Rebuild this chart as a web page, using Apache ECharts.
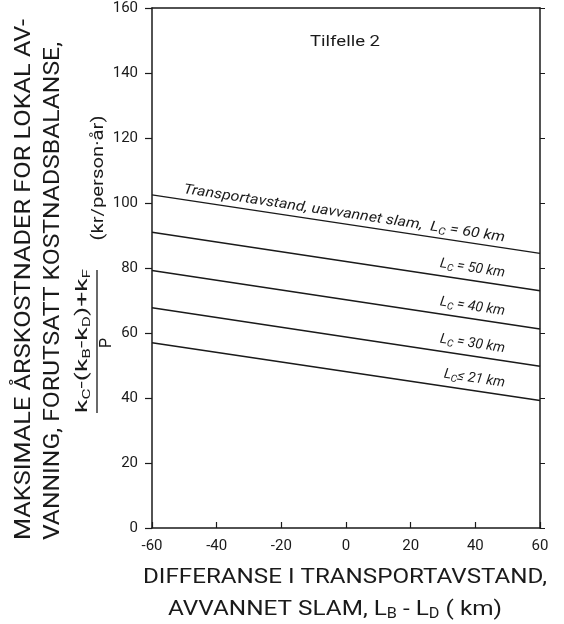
<!DOCTYPE html>
<html><head><meta charset="utf-8">
<script src="https://cdn.jsdelivr.net/npm/echarts@6/dist/echarts.min.js"></script>
<style>html,body{margin:0;padding:0;background:#fff}#c{width:564px;height:624px}</style>
</head><body><div id="c"></div>
<script>
// ---- data ----
const xTickValues = [-60, -40, -20, 0, 20, 40, 60];
const yTickValues = [0, 20, 40, 60, 80, 100, 120, 140, 160];
const xEnds = [-60, 60];
const lineLc60 = [102.5, 84.5];
const lineLc50 = [91.0, 73.0];
const lineLc40 = [79.2, 61.2];
const lineLc30 = [67.8, 49.8];
const lineLc21 = [57.0, 39.2];
const seriesNames = ['LC = 60 km', 'LC = 50 km', 'LC = 40 km', 'LC = 30 km', 'LC ≤ 21 km'];
const lineLabels = [
  'Transportavstand, uavvannet slam,  L{s|C} = 60 km',
  'L{s|C} = 50 km', 'L{s|C} = 40 km', 'L{s|C} = 30 km', 'L{s|C}≤ 21 km'
];
const caseTitle = 'Tilfelle 2';
const yTitle1 = 'MAKSIMALE ÅRSKOSTNADER FOR LOKAL AV-';
const yTitle2 = 'VANNING, FORUTSATT KOSTNADSBALANSE,';
const yNumerator = 'k{s|C}-(k{s|B}-k{s|D})+k{s|F}';
const yDenominator = 'P';
const yUnit = '(kr/person·år)';
const xTitle1 = 'DIFFERANSE I TRANSPORTAVSTAND,';
const xTitle2 = 'AVVANNET SLAM, L{s|B} - L{s|D} ( km)';

const FF = 'Roboto, "DejaVu Sans", sans-serif';
const INK = '#1a1a1a';
const lines = [lineLc60, lineLc50, lineLc40, lineLc30, lineLc21];

const ctx = document.createElement('canvas').getContext('2d');
function tw(text, size, style) { ctx.font = (style || 'normal') + ' ' + size + 'px ' + FF; return ctx.measureText(text).width; }
function richWidth(str, size, subSize, style) {
  let w = 0; const re = /\{s\|([^}]*)\}/g; let last = 0, m;
  while ((m = re.exec(str))) { w += tw(str.slice(last, m.index), size, style); w += tw(m[1], subSize, style); last = re.lastIndex; }
  w += tw(str.slice(last), size, style); return w;
}

const chart = echarts.init(document.getElementById('c'));
chart.setOption({
  animation: false,
  backgroundColor: '#fff',
  grid: { left: 152, right: 24, top: 8, bottom: 96 },
  xAxis: [
    { type: 'value', min: -60, max: 60, interval: 20, position: 'bottom',
      axisLine: { onZero: false, lineStyle: { color: INK, width: 1.5 } },
      axisTick: { inside: true, length: 6, lineStyle: { color: INK, width: 1.2 } },
      axisLabel: { color: INK, fontFamily: FF, fontSize: 15, margin: 11,
        customValues: xTickValues, formatter: v => String(v) },
      splitLine: { show: false } },
    { type: 'value', min: -60, max: 60, position: 'top',
      axisLine: { show: true, onZero: false, lineStyle: { color: INK, width: 1.5 } },
      axisTick: { show: false }, axisLabel: { show: false }, splitLine: { show: false } }
  ],
  yAxis: [
    { type: 'value', min: 0, max: 160, interval: 20, position: 'left',
      axisLine: { show: true, onZero: false, lineStyle: { color: INK, width: 1.5 } },
      axisTick: { show: true, length: 7, lineStyle: { color: INK, width: 1.2 } },
      axisLabel: { color: INK, fontFamily: FF, fontSize: 15, margin: 14, formatter: v => String(v) },
      splitLine: { show: false } },
    { type: 'value', min: 0, max: 160, interval: 20, position: 'right',
      axisLine: { show: true, onZero: false, lineStyle: { color: INK, width: 1.5 } },
      axisTick: { show: true, length: 5, lineStyle: { color: INK, width: 1 } },
      axisLabel: { show: false }, splitLine: { show: false } }
  ],
  series: lines.map((v, i) => ({
    type: 'line', name: seriesNames[i], xAxisIndex: 0, yAxisIndex: 0,
    data: xEnds.map((x, j) => [x, v[j]]), symbol: 'none', silent: true,
    lineStyle: { color: INK, width: 1.5 }
  }))
});

// ---- text graphics ----
const g = [];
const labSize = 14, labSub = 10;
lines.forEach((v, i) => {
  const p0 = chart.convertToPixel({ gridIndex: 0 }, [xEnds[0], v[0]]);
  const p1 = chart.convertToPixel({ gridIndex: 0 }, [xEnds[1], v[1]]);
  const dx = p1[0] - p0[0], dy = p1[1] - p0[1], len = Math.hypot(dx, dy);
  const first = i === 0;
  const ax = first ? 182 : 503;
  const t = (ax - p0[0]) / dx;
  const off = first ? 10 : 12;
  const nx = dy / len, ny = -dx / len;
  const px = p0[0] + t * dx + nx * off, py = p0[1] + t * dy + ny * off;
  let sx = 1;
  if (first) sx = 325 / richWidth(lineLabels[i], labSize, labSub, 'italic');
  g.push({ type: 'text', x: px, y: py, rotation: -Math.atan2(dy, dx), scaleX: sx, silent: true,
    style: { text: lineLabels[i], fill: INK, fontFamily: FF, fontSize: labSize, fontStyle: 'italic',
      align: first ? 'left' : 'right', verticalAlign: 'middle',
      rich: { s: { fontSize: labSub, fontStyle: 'italic', fontFamily: FF, fill: INK, padding: [7, 0, 0, 0] } } } });
});

g.push({ type: 'text', x: 345, y: 42, scaleX: 70 / tw(caseTitle, 15), silent: true,
  style: { text: caseTitle, fill: INK, fontFamily: FF, fontSize: 15, align: 'center', verticalAlign: 'middle' } });

// y-axis title (rotated)
const tSize = 22;
g.push({ type: 'text', x: 24, y: 540, rotation: Math.PI / 2, scaleX: 521 / tw(yTitle1, tSize), silent: true,
  style: { text: yTitle1, fill: INK, fontFamily: FF, fontSize: tSize, align: 'left', verticalAlign: 'middle' } });
g.push({ type: 'text', x: 53, y: 540, rotation: Math.PI / 2, scaleX: 498 / tw(yTitle2, tSize), silent: true,
  style: { text: yTitle2, fill: INK, fontFamily: FF, fontSize: tSize, align: 'left', verticalAlign: 'middle' } });
g.push({ type: 'text', x: 83, y: 341, rotation: Math.PI / 2, scaleX: 144 / richWidth(yNumerator, 17, 11), silent: true,
  style: { text: yNumerator, fill: INK, fontFamily: FF, fontSize: 17, align: 'center', verticalAlign: 'middle',
    rich: { s: { fontSize: 11, fontFamily: FF, fill: INK, padding: [8, 0, 0, 0] } } } });
g.push({ type: 'line', silent: true, shape: { x1: 97, y1: 270, x2: 97, y2: 413 }, style: { stroke: INK, lineWidth: 1.3 } });
g.push({ type: 'text', x: 107, y: 343, rotation: Math.PI / 2, silent: true,
  style: { text: yDenominator, fill: INK, fontFamily: FF, fontSize: 16, align: 'center', verticalAlign: 'middle' } });
g.push({ type: 'text', x: 99, y: 178, rotation: Math.PI / 2, scaleX: 125 / tw(yUnit, 17), silent: true,
  style: { text: yUnit, fill: INK, fontFamily: FF, fontSize: 17, align: 'center', verticalAlign: 'middle' } });

// x-axis title
g.push({ type: 'text', x: 345, y: 578, scaleX: 404 / tw(xTitle1, 21), silent: true,
  style: { text: xTitle1, fill: INK, fontFamily: FF, fontSize: 21, align: 'center', verticalAlign: 'middle' } });
g.push({ type: 'text', x: 335, y: 610, scaleX: 334 / richWidth(xTitle2, 21, 14), silent: true,
  style: { text: xTitle2, fill: INK, fontFamily: FF, fontSize: 21, align: 'center', verticalAlign: 'middle',
    rich: { s: { fontSize: 14, fontFamily: FF, fill: INK, padding: [9, 0, 0, 0] } } } });

chart.setOption({ graphic: g });
</script></body></html>
